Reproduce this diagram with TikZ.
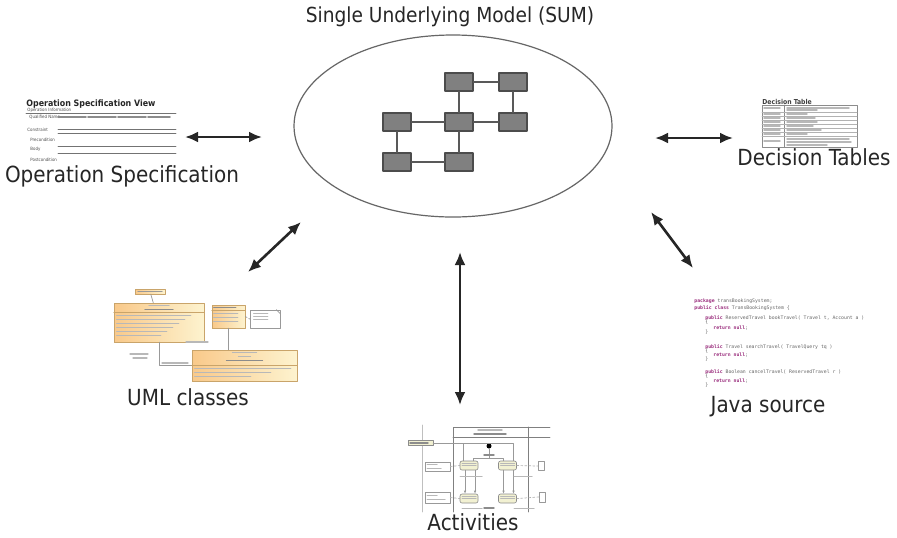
\documentclass[tikz,border=0pt]{standalone}
\usepackage{fontspec}
\setmainfont{DejaVu Sans Condensed}
\setmonofont{DejaVu Sans Mono}
\usetikzlibrary{arrows.meta,shapes.geometric}

\definecolor{boxgray}{HTML}{808080}
\definecolor{umlorange}{HTML}{F9C98A}
\definecolor{umlyellow}{HTML}{FDF3CF}
\definecolor{umlline}{HTML}{C9A46A}
\definecolor{actfill}{HTML}{F2F1D2}
\definecolor{kwpurple}{HTML}{9B2F7E}

\newcommand{\kw}[1]{\textcolor{kwpurple}{\bfseries #1}}

\begin{document}
\begin{tikzpicture}[
    x=0.5pt, y=-0.5pt,
    line cap=round,
    line join=round,
    lbl/.style={font=\fontsize{11.1}{13}\selectfont, text=black!85, inner sep=0pt, anchor=base},
    gbox/.style={draw=black!70, fill=boxgray, line width=0.6pt, minimum width=14pt, minimum height=9pt, inner sep=0pt},
    glink/.style={draw=black!65, line width=0.6pt},
    twoway/.style={{Latex[length=6.5pt,width=5.5pt]}-{Latex[length=6.5pt,width=5.5pt]}, line width=1.3pt, draw=black!85},
    smalltxt/.style={font=\fontsize{2.2}{2.5}\selectfont, text=black!70, inner sep=0pt, anchor=west},
    javatxt/.style={font=\ttfamily\fontsize{2.4}{3}\selectfont, text=black!60, inner sep=0pt, anchor=west},
    scrib/.style={line width=0.7pt, draw=black!28},
    thinrule/.style={line width=0.35pt, draw=black!55},
    umlbox/.style={draw=umlline, line width=0.3pt, left color=umlorange, right color=umlyellow, inner sep=0pt},
    actbox/.style={draw=black!45, fill=actfill, line width=0.3pt, rounded corners=1pt, inner sep=0pt, minimum width=9pt, minimum height=4.5pt},
    objbox/.style={draw=black!40, fill=white, line width=0.3pt, inner sep=0pt},
]

\fill[white] (0,0) rectangle (897,537);
\path[use as bounding box] (0,0) rectangle (897,537);

% -----------------------
% Single underlying model
% -----------------------
\node[lbl, font=\fontsize{10.35}{12}\selectfont] (title) at (450,22) {Single Underlying Model (SUM)};
\node[draw=black!60, line width=0.6pt, ellipse, minimum width=159pt, minimum height=91pt] (sum) at (453,126) {};

\node[gbox] (ga) at (459,82) {};
\node[gbox] (gb) at (513,82) {};
\node[gbox] (gc) at (397,122) {};
\node[gbox] (gd) at (459,122) {};
\node[gbox] (ge) at (513,122) {};
\node[gbox] (gf) at (397,162) {};
\node[gbox] (gg) at (459,162) {};

\draw[glink] (ga) -- (gb);
\draw[glink] (ga) -- (gd);
\draw[glink] (gb) -- (ge);
\draw[glink] (gc) -- (gd);
\draw[glink] (gd) -- (ge);
\draw[glink] (gc) -- (gf);
\draw[glink] (gf) -- (gg);
\draw[glink] (gd) -- (gg);

% -----------------------
% View labels
% -----------------------
\node[lbl] (opspec) at (122,182) {Operation Specification};
\node[lbl] (dectab) at (814,165) {Decision Tables};
\node[lbl] (umlcls) at (188,405) {UML classes};
\node[lbl] (javasrc) at (768,412) {Java source};
\node[lbl] (activ) at (473,530) {Activities};

% -----------------------
% Two-way arrows
% -----------------------
\coordinate (opL) at (185,137);  \coordinate (opR) at (262,137);
\coordinate (dtL) at (655,138);  \coordinate (dtR) at (733,138);
\coordinate (umA) at (248,272);  \coordinate (umB) at (301,222);
\coordinate (acA) at (460,252);  \coordinate (acB) at (460,405);
\coordinate (jvA) at (651,212);  \coordinate (jvB) at (693,268);

\draw[twoway] (opL) -- (opR);
\draw[twoway] (dtL) -- (dtR);
\draw[twoway] (umA) -- (umB);
\draw[twoway] (acA) -- (acB);
\draw[twoway] (jvA) -- (jvB);

% -----------------------
% Operation specification view
% -----------------------
\node[font=\fontsize{4.4}{5}\selectfont\bfseries, text=black!85, inner sep=0pt, anchor=west] (opview) at (26,104) {Operation Specification View};
\node[smalltxt] (opinfo) at (27,110.5) {Operation Information};
\draw[thinrule] (26,113) -- (176,113);
\node[smalltxt] (opqn) at (29,117) {Qualified Name};
\draw[line width=0.8pt, draw=black!45, dash pattern=on 14pt off 1pt] (58,117) -- (170,117);
\node[smalltxt] (opcon) at (27,130) {Constraint};
\draw[thinrule] (58,129.5) -- (176,129.5);
\draw[thinrule] (58,133) -- (176,133);
\node[smalltxt] (oppre) at (30,140) {Precondition};
\draw[thinrule] (58,146) -- (176,146);
\node[smalltxt] (opbody) at (30,149) {Body};
\draw[thinrule] (58,153) -- (176,153);
\node[smalltxt] (oppost) at (30,160) {Postcondition};

% -----------------------
% Decision table
% -----------------------
\node[font=\fontsize{3.4}{4}\selectfont\bfseries, text=black!75, inner sep=0pt, anchor=west] (dtitle) at (762,101.5) {Decision Table};
\draw[thinrule, draw=black!45] (762,105) rectangle (857,147);
\draw[thinrule, draw=black!45] (784,105) -- (784,147);
\foreach \yy in {112,116,120,124,128,132,136}
  \draw[thinrule, draw=black!30] (762,\yy) -- (857,\yy);
\foreach \yy in {108,114,118,122,126,130,134,141}
  \draw[scrib] (764,\yy) -- ++(16,0);
\foreach \yy/\ww in {108/62,110/30,114/20,118/28,122/30,126/26,130/34,134/20,139/62,142/64,145/40}
  \draw[scrib] (787,\yy) -- ++(\ww,0);

% -----------------------
% UML classes
% -----------------------
\node[umlbox, minimum width=15pt, minimum height=2.5pt] (iface) at (150,291.5) {};
\node[umlbox, minimum width=45pt, minimum height=19.5pt] (acctmgr) at (159,322.5) {};
\node[umlbox, minimum width=16.5pt, minimum height=11.5pt] (bksys) at (228.5,316.5) {};
\node[objbox, minimum width=15pt, minimum height=9pt] (note) at (265,319) {};
\node[umlbox, minimum width=52.5pt, minimum height=15.5pt] (tbsys) at (244.5,365.5) {};

\draw[thinrule, draw=black!40] (iface) -- (acctmgr);
\draw[thinrule, draw=black!40] (bksys.south) -- (bksys.south |- tbsys.north);
\draw[thinrule, draw=black!40] (acctmgr.south) |- (tbsys.west);
\draw[thinrule, draw=black!40, dash pattern=on 1pt off 1pt] (bksys.east) -- (note.west);
\draw[thinrule, draw=black!40] ([xshift=-2pt]note.north east) -- ([yshift=-2pt]note.north east);

\draw[umlline, line width=0.3pt] ([yshift=-5pt]acctmgr.north west) -- ([yshift=-5pt]acctmgr.north east);
\draw[umlline, line width=0.3pt] ([yshift=-3pt]bksys.north west) -- ([yshift=-3pt]bksys.north east);
\draw[umlline, line width=0.3pt] ([yshift=-8pt]tbsys.north west) -- ([yshift=-8pt]tbsys.north east);

\draw[scrib, draw=black!40] ([xshift=-6pt,yshift=-1.5pt]iface.north) -- ++(24,0);
\draw[scrib] ([xshift=-5pt,yshift=-1.5pt]acctmgr.north) -- ++(20,0);
\draw[scrib, draw=black!45] ([xshift=-7pt,yshift=-3.5pt]acctmgr.north) -- ++(28,0);
\foreach \k in {0,...,5}
  \draw[scrib, line width=0.6pt] ([xshift=1.5pt,yshift={-6.5pt-2pt*\k}]acctmgr.north west) -- ++(74-6*\k,0);
\draw[scrib, draw=black!45] ([xshift=1pt,yshift=-1.5pt]bksys.north west) -- ++(22,0);
\foreach \k in {0,1,2}
  \draw[scrib, line width=0.6pt] ([xshift=1pt,yshift={-4.5pt-2pt*\k}]bksys.north west) -- ++(24,0);
\foreach \k in {0,1,2}
  \draw[scrib, line width=0.6pt] ([xshift=2pt,yshift={-2pt-1.5pt*\k}]note.north west) -- ++(14,0);
\draw[scrib] ([xshift=-6pt,yshift=-1.5pt]tbsys.north) -- ++(24,0);
\draw[scrib] ([xshift=-3pt,yshift=-3.5pt]tbsys.north) -- ++(12,0);
\draw[scrib, draw=black!45] ([xshift=-9pt,yshift=-5.5pt]tbsys.north) -- ++(36,0);
\foreach \k in {0,1,2}
  \draw[scrib, line width=0.6pt] ([xshift=1.5pt,yshift={-9.5pt-2pt*\k}]tbsys.north west) -- ++(96-20*\k,0);
\draw[scrib, line width=0.6pt] (186,342) -- ++(22,0);
\draw[scrib, line width=0.6pt] (130,354) -- ++(18,0);
\draw[scrib, line width=0.6pt] (133,358) -- ++(14,0);
\draw[scrib, line width=0.6pt] (162,363) -- ++(26,0);

% -----------------------
% Activities
% -----------------------
\draw[thinrule, draw=black!25] (422,425) -- (422,512);
\draw[thinrule, draw=black!50] (453,512) |- (550,427);
\draw[thinrule, draw=black!50] (453,437) -- (550,437);
\draw[thinrule, draw=black!50] (528,427) -- (528,512);
\draw[scrib] (478,430) -- (502,430);
\draw[scrib, draw=black!45] (474,434) -- (506,434);

\node[actbox, minimum width=12.5pt, minimum height=2.5pt, rounded corners=0pt] (pin) at (420.5,443) {};
\node[circle, fill=black, inner sep=0pt, minimum size=2.5pt] (init) at (489,446) {};
\node[actbox] (actTL) at (469,465.5) {};
\node[actbox] (actTR) at (507.5,465.5) {};
\node[actbox] (actBL) at (469,498.5) {};
\node[actbox] (actBR) at (507.5,498.5) {};
\node[objbox, minimum width=12.5pt, minimum height=4.5pt] (objL1) at (437.5,466.5) {};
\node[objbox, minimum width=12.5pt, minimum height=5.5pt] (objL2) at (437.5,497.5) {};
\node[objbox, minimum width=3pt, minimum height=4.5pt] (objR1) at (541,466) {};
\node[objbox, minimum width=3pt, minimum height=5pt] (objR2) at (542,497) {};

\draw[thinrule, draw=black!40] (pin.east) -| ([xshift=3pt]actTR.north);
\draw[thinrule, draw=black!40] (pin.east) -| ([xshift=-3pt]actTL.north);
\draw[thinrule, draw=black!40] (init) -- ++(0,12) -| ([xshift=2pt]actTL.north);
\draw[thinrule, draw=black!40] (init) -- ++(0,12) -| ([xshift=-2pt]actTR.north);
\draw[thinrule, draw=black!40, -{Latex[length=1.5pt,width=1.2pt]}] ([xshift=-2pt]actTL.south) -- ([xshift=-2pt]actBL.north);
\draw[thinrule, draw=black!40, -{Latex[length=1.5pt,width=1.2pt]}] ([xshift=3pt]actTL.south) -- ([xshift=3pt]actBL.north);
\draw[thinrule, draw=black!40, -{Latex[length=1.5pt,width=1.2pt]}] ([xshift=-2pt]actTR.south) -- ([xshift=-2pt]actBR.north);
\draw[thinrule, draw=black!40, -{Latex[length=1.5pt,width=1.2pt]}] ([xshift=3pt]actTR.south) -- ([xshift=3pt]actBR.north);
\draw[thinrule, draw=black!30, dash pattern=on 1pt off 1pt] (objL1.east) -- (actTL.west);
\draw[thinrule, draw=black!30, dash pattern=on 1pt off 1pt] (objL2.east) -- (actBL.west);
\draw[thinrule, draw=black!30, dash pattern=on 1pt off 1pt] (actTR.east) -- (objR1.west);
\draw[thinrule, draw=black!30, dash pattern=on 1pt off 1pt] (actBR.east) -- (objR2.west);

\draw[scrib, draw=black!45] (484,455) -- (494,455);
\draw[scrib, draw=black!45] (484,508) -- (494,508);
\draw[scrib, draw=black!45] (410,443) -- (428,443);
\draw[scrib, line width=0.5pt] (427,464) -- ++(10,0);
\draw[scrib, line width=0.5pt] (427,468) -- ++(14,0);
\draw[scrib, line width=0.5pt] (427,495) -- ++(10,0);
\draw[scrib, line width=0.5pt] (427,499) -- ++(18,0);
\foreach \k in {0,1}{
  \draw[scrib, line width=0.5pt] ([xshift=-3.5pt,yshift={-1.2pt-1.3pt*\k}]actTL.north) -- ++(14,0);
  \draw[scrib, line width=0.5pt] ([xshift=-3.5pt,yshift={-1.2pt-1.3pt*\k}]actTR.north) -- ++(14,0);
  \draw[scrib, line width=0.5pt] ([xshift=-3.5pt,yshift={-1.2pt-1.3pt*\k}]actBL.north) -- ++(14,0);
  \draw[scrib, line width=0.5pt] ([xshift=-3.5pt,yshift={-1.2pt-1.3pt*\k}]actBR.north) -- ++(14,0);
}
\draw[scrib, line width=0.5pt] (460,476) -- ++(22,0);
\draw[scrib, line width=0.5pt] (514,476) -- ++(18,0);
\draw[scrib, line width=0.5pt] (462,508) -- ++(20,0);
\draw[scrib, line width=0.5pt] (514,508) -- ++(20,0);

% -----------------------
% Java source
% -----------------------
\foreach \yy/\xx/\txt in {
  301/694/{\kw{package} transBookingSystem;},
  308/694/{\kw{public class} TransBookingSystem \{},
  318/705/{\kw{public} ReservedTravel bookTravel( Travel t, Account a )},
  322/705/{\{},
  328/713/{\kw{return null};},
  332/705/{\}},
  347/705/{\kw{public} Travel searchTravel( TravelQuery tq )},
  351/705/{\{},
  355/713/{\kw{return null};},
  359/705/{\}},
  372/705/{\kw{public} Boolean cancelTravel( ReservedTravel r )},
  376/705/{\{},
  381/713/{\kw{return null};},
  385/705/{\}}}
  \node[javatxt] (java\yy) at (\xx,\yy) {\txt};

\end{tikzpicture}
\end{document}
